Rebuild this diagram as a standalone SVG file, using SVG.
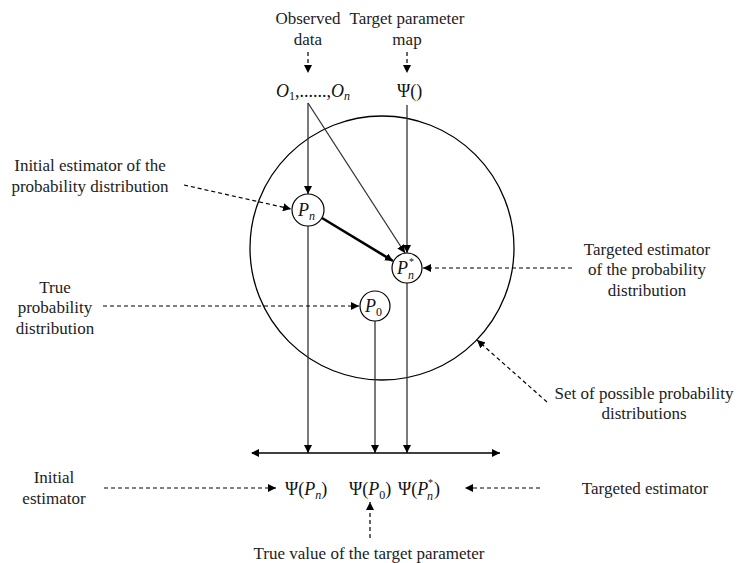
<svg xmlns="http://www.w3.org/2000/svg" width="739" height="563" viewBox="0 0 739 563">
<defs>
<marker id="ah" markerUnits="userSpaceOnUse" markerWidth="9" markerHeight="8" refX="8" refY="4" orient="auto">
<path d="M0,0 L8,4 L0,8 Z" fill="#000"/>
</marker>
<marker id="ahs" markerUnits="userSpaceOnUse" markerWidth="9" markerHeight="8" refX="1" refY="4" orient="auto">
<path d="M8,0 L0,4 L8,8 Z" fill="#000"/>
</marker>
<style>
.lbl{font-family:"Liberation Serif","Times New Roman",serif;font-size:17px;fill:#222;text-anchor:middle}
.m{font-family:"Liberation Serif","Times New Roman",serif;font-size:18px;fill:#111}
.i{font-style:italic}
.sub{font-size:12px}
.sup{font-size:10px}
.solid{stroke:#333;stroke-width:1.3;fill:none;marker-end:url(#ah)}
.dash{stroke:#000;stroke-width:1.2;stroke-dasharray:4,3;fill:none;marker-end:url(#ah)}
.node{fill:#fff;stroke:#000;stroke-width:1.2}
</style>
</defs>
<rect width="739" height="563" fill="#fff"/>

<g id="set">
<circle cx="382" cy="248" r="132" fill="none" stroke="#000" stroke-width="1.3"/>
</g>

<g id="connectors">
<line class="dash" x1="308" y1="52" x2="308" y2="73"/>
<line class="dash" x1="407" y1="52" x2="407" y2="73"/>
<line class="solid" x1="308" y1="103" x2="308" y2="194"/>
<line class="solid" x1="308" y1="103" x2="405" y2="253"/>
<line class="solid" x1="407" y1="105" x2="407" y2="253"/>
<line x1="322" y1="218" x2="393" y2="261" stroke="#000" stroke-width="2.6" marker-end="url(#ah)"/>
<line class="solid" x1="308" y1="226" x2="308" y2="453"/>
<line class="solid" x1="375" y1="321" x2="375" y2="453"/>
<line class="solid" x1="407" y1="283" x2="407" y2="453"/>
<line x1="252" y1="453" x2="500" y2="453" stroke="#000" stroke-width="1.5" marker-start="url(#ahs)" marker-end="url(#ah)"/>
<line class="dash" x1="184" y1="185" x2="291" y2="209"/>
<line class="dash" x1="103" y1="306" x2="359" y2="306"/>
<line class="dash" x1="572" y1="268" x2="423" y2="268"/>
<line class="dash" x1="547" y1="402" x2="477" y2="340"/>
<line class="dash" x1="104" y1="488" x2="276" y2="488"/>
<line class="dash" x1="540" y1="488" x2="465" y2="488"/>
<line class="dash" x1="370" y1="538" x2="370" y2="502"/>
</g>

<g id="observed">
<text class="lbl" x="308" y="24">Observed</text>
<text class="lbl" x="308" y="45">data</text>
</g>
<g id="target-map">
<text class="lbl" x="407" y="24">Target parameter</text>
<text class="lbl" x="407" y="45">map</text>
</g>
<g id="data">
<text class="m" x="276" y="97"><tspan class="i">O</tspan><tspan class="sub" dy="3">1</tspan><tspan dy="-3">,......,</tspan><tspan class="i">O</tspan><tspan class="sub i" dy="3">n</tspan></text>
</g>
<g id="psi">
<text class="m" x="397" y="97">Ψ()</text>
</g>

<g id="Pn">
<circle class="node" cx="308" cy="210" r="16"/>
<text class="m i" x="298" y="216">P<tspan class="sub" dy="4">n</tspan></text>
</g>
<g id="Pnstar">
<circle class="node" cx="407" cy="268" r="15"/>
<text class="m i" x="397" y="274">P<tspan class="sup" font-style="normal" x="409" y="265">*</tspan><tspan class="sub" x="408" y="279">n</tspan></text>
</g>
<g id="P0">
<circle class="node" cx="375" cy="306" r="15"/>
<text class="m i" x="365" y="312">P<tspan class="sub" font-style="normal" dy="4">0</tspan></text>
</g>

<g id="label-initial-dist">
<text class="lbl" x="90" y="171">Initial estimator of the</text>
<text class="lbl" x="90" y="192">probability distribution</text>
</g>
<g id="label-true-dist">
<text class="lbl" x="55" y="293">True</text>
<text class="lbl" x="55" y="313">probability</text>
<text class="lbl" x="55" y="334">distribution</text>
</g>
<g id="label-targeted-dist">
<text class="lbl" x="647" y="255">Targeted estimator</text>
<text class="lbl" x="647" y="275">of the probability</text>
<text class="lbl" x="647" y="296">distribution</text>
</g>
<g id="label-set">
<text class="lbl" x="644" y="399">Set of possible probability</text>
<text class="lbl" x="644" y="419">distributions</text>
</g>

<g id="psi-Pn">
<text class="m" x="285" y="495">Ψ(<tspan class="i">P</tspan><tspan class="sub i" dy="4">n</tspan><tspan dy="-4">)</tspan></text>
</g>
<g id="psi-P0">
<text class="m" x="349" y="495">Ψ(<tspan class="i">P</tspan><tspan class="sub" dy="4">0</tspan><tspan dy="-4">)</tspan></text>
</g>
<g id="psi-Pnstar">
<text class="m" x="398" y="495">Ψ(<tspan class="i">P</tspan><tspan class="sup" x="428" y="486">*</tspan><tspan class="sub i" x="427" y="500">n</tspan><tspan x="434" y="495">)</tspan></text>
</g>

<g id="label-initial">
<text class="lbl" x="54" y="483">Initial</text>
<text class="lbl" x="54" y="504">estimator</text>
</g>
<g id="label-targeted">
<text class="lbl" x="645" y="494">Targeted estimator</text>
</g>
<g id="label-true-value">
<text class="lbl" x="369" y="559">True value of the target parameter</text>
</g>
</svg>
